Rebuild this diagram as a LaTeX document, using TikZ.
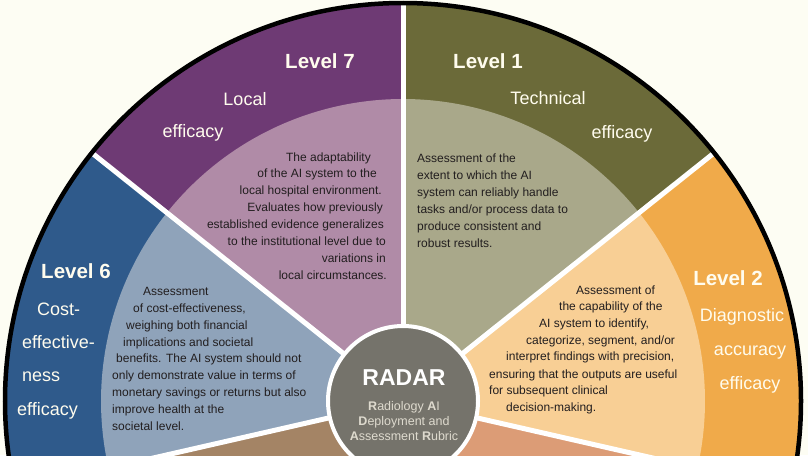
\documentclass[tikz,border=0pt]{standalone}
\usepackage{fontspec}
\setmainfont{Liberation Sans}
\definecolor{bg}{HTML}{FDFDF3}
\definecolor{c1o}{HTML}{6B6A39}
\definecolor{c1i}{HTML}{A9A88A}
\definecolor{c2o}{HTML}{F0AA4A}
\definecolor{c2i}{HTML}{F8CF95}
\definecolor{c3o}{HTML}{C8794E}
\definecolor{c3i}{HTML}{DC9C76}
\definecolor{c4o}{HTML}{5E5A55}
\definecolor{c4i}{HTML}{9C9890}
\definecolor{c5o}{HTML}{7A5A3E}
\definecolor{c5i}{HTML}{A48465}
\definecolor{c6o}{HTML}{2F5A8B}
\definecolor{c6i}{HTML}{8FA3BA}
\definecolor{c7o}{HTML}{6E3A74}
\definecolor{c7i}{HTML}{B08BA7}
\definecolor{hubgray}{HTML}{75736B}
\definecolor{hubtxt}{HTML}{DEDACE}
\definecolor{labeltxt}{HTML}{FFFCEE}
\definecolor{desctxt}{HTML}{221E1F}
\begin{document}
\begin{tikzpicture}[x=1pt,y=-1pt,
  lvl/.style={text=labeltxt, font=\bfseries\fontsize{20.5}{24}\selectfont, inner sep=0pt, anchor=base},
  lbl/.style={text=labeltxt, font=\fontsize{18}{22}\selectfont, inner sep=0pt, anchor=base},
  desc/.style={text=desctxt, font=\fontsize{12}{14}\selectfont, inner sep=0pt},
  divider/.style={draw=white, line width=5pt},
]
\useasboundingbox (0,0) rectangle (808,455);
\fill[bg] (0,0) rectangle (808,455);

% wheel: seven equal sectors, dark outer ring and light inner part
\begin{scope}[shift={(403,401)}, yscale=-1]
  \foreach \a/\b/\co/\ci in {38.571/90/c1o/c1i, 90/141.429/c7o/c7i,
      141.429/192.857/c6o/c6i, 192.857/244.286/c5o/c5i,
      244.286/295.714/c4o/c4i, 295.714/347.143/c3o/c3i,
      -12.857/38.571/c2o/c2i} {
    \fill[\co] (0,0) -- (\a:398) arc[start angle=\a, end angle=\b, radius=398] -- cycle;
    \fill[\ci] (0,0) -- (\a:302) arc[start angle=\a, end angle=\b, radius=302] -- cycle;
  }
  \foreach \a in {38.571, 90, 141.429, 192.857, 244.286, 295.714, 347.143}
    \draw[divider] (0,0) -- (\a:398);
  \draw[line width=4.5pt, black] (0,0) circle[radius=398];
\end{scope}

% hub
\node[circle, fill=hubgray, draw=white, line width=4pt, minimum size=150pt, inner sep=0pt] (hub) at (403,401) {};
\node[font=\bfseries\fontsize{23}{26}\selectfont, text=white, inner sep=0pt] (radar) at (404,378) {RADAR};
\node[align=center, font=\fontsize{12.5}{15}\selectfont, text=hubtxt, inner sep=0pt] (radarsub) at (404,421)
  {\textbf{R}adiology \textbf{A}I\\\textbf{D}eployment and\\\textbf{A}ssessment \textbf{R}ubric};

% level titles
\node[lvl] (t7) at (320,68) {Level 7};
\node[lbl] (t7a) at (245,105) {Local};
\node[lbl] (t7b) at (193,137) {efficacy};

\node[lvl] (t1) at (488,68) {Level 1};
\node[lbl] (t1a) at (548,104) {Technical};
\node[lbl] (t1b) at (622,138) {efficacy};

\node[lvl] (t6) at (76,278) {Level 6};
\node[lbl, anchor=base west] (t6a) at (37,315) {Cost-};
\node[lbl, anchor=base west] (t6b) at (22,348) {effective-};
\node[lbl, anchor=base west] (t6c) at (22,381) {ness};
\node[lbl, anchor=base west] (t6d) at (17,415) {efficacy};

\node[lvl] (t2) at (728,285) {Level 2};
\node[lbl] (t2a) at (742,321) {Diagnostic};
\node[lbl] (t2b) at (750,355) {accuracy};
\node[lbl] (t2c) at (750,389) {efficacy};

% descriptions
\foreach \x/\y/\t [count=\i] in {
    371/161/{The adaptability},
    377/177.9/{of the AI system to the},
    382/194.7/{local hospital environment.},
    383/211.6/{Evaluates how previously},
    384/228.4/{established evidence generalizes},
    386/245.3/{to the institutional level due to},
    386/262.1/{variations in},
    387/279/{local circumstances.}}
  \node[desc, anchor=base east] (d7l\i) at (\x,\y) {\t};

\foreach \x/\y/\t [count=\i] in {
    417/162/{Assessment of the},
    417/179/{extent to which the AI},
    417/196/{system can reliably handle},
    417/213/{tasks and/or process data to},
    417/230/{produce consistent and},
    417/247/{robust results.}}
  \node[desc, anchor=base west] (d1l\i) at (\x,\y) {\t};

\foreach \x/\y/\t [count=\i] in {
    143/295/{Assessment},
    133/312/{of cost-effectiveness,},
    126/329/{weighing both financial},
    123/346/{implications and societal},
    116/362/{benefits. The AI system should not},
    112/379/{only demonstrate value in terms of},
    112/396/{monetary savings or returns but also},
    112/413/{improve health at the},
    112/430/{societal level.}}
  \node[desc, anchor=base west] (d6l\i) at (\x,\y) {\t};

\foreach \x/\y/\t [count=\i] in {
    576/294/{Assessment of},
    559/310/{the capability of the},
    539/327/{AI system to identify,},
    526/344/{categorize, segment, and/or},
    506/360/{interpret findings with precision,},
    489/378/{ensuring that the outputs are useful},
    489/394/{for subsequent clinical},
    506/411/{decision-making.}}
  \node[desc, anchor=base west] (d2l\i) at (\x,\y) {\t};
\end{tikzpicture}
\end{document}
